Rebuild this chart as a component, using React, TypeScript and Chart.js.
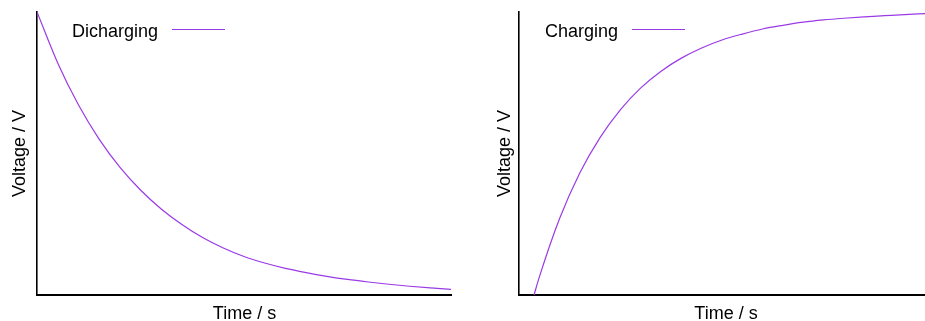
import React, { useEffect, useRef } from "react";
import { Chart, registerables } from "chart.js";

Chart.register(...registerables);

// Discharging: voltage falling from full towards zero
const dischargeTime = [0, 0.5, 1, 1.5, 2, 2.5, 3, 3.5, 4, 4.5, 5, 5.5, 6, 6.5, 7, 7.5, 8, 8.5, 9, 9.5, 10];
const dischargeVolts = [1.0, 0.82, 0.672, 0.551, 0.452, 0.371, 0.304, 0.249, 0.203, 0.166, 0.136, 0.113, 0.094, 0.079, 0.066, 0.055, 0.046, 0.038, 0.031, 0.025, 0.02];

// Charging: voltage rising from zero towards full
const chargeTime = [0.37, 0.5, 1, 1.5, 2, 2.5, 3, 3.5, 4, 4.5, 5, 5.5, 6, 6.5, 7, 7.5, 8, 8.5, 9, 9.5, 10];
const chargeVolts = [0, 0.063, 0.27, 0.432, 0.557, 0.655, 0.732, 0.791, 0.837, 0.873, 0.901, 0.922, 0.94, 0.953, 0.964, 0.972, 0.978, 0.983, 0.987, 0.991, 0.994];

const xTitle = "Time / s";
const yTitle = "Voltage / V";

const LINE_COLOR = "#9a3ae6";
const FONT = '18px "Liberation Sans", Arial, Helvetica, sans-serif';

type Decor = {
  key: string;
  legendX: number;
  sampleX1: number;
  sampleX2: number;
  xTitleCenter: number;
  yTitleBaseline: number;
};

// Draws the gnuplot-style key (text followed by a line sample) and the axis titles
const decorPlugin = {
  id: "decor",
  afterDraw(chart: any, _args: any, opts: Decor) {
    const ctx = chart.ctx as CanvasRenderingContext2D;
    const area = chart.chartArea;
    ctx.save();
    ctx.font = FONT;
    ctx.fillStyle = "#000";
    ctx.textBaseline = "alphabetic";

    // key
    ctx.textAlign = "left";
    ctx.fillText(opts.key, opts.legendX, 36.5);
    ctx.strokeStyle = LINE_COLOR;
    ctx.lineWidth = 1.2;
    ctx.beginPath();
    ctx.moveTo(opts.sampleX1, 29.5);
    ctx.lineTo(opts.sampleX2, 29.5);
    ctx.stroke();

    // x-axis title
    ctx.textAlign = "center";
    ctx.fillText(xTitle, opts.xTitleCenter, 319);

    // y-axis title, rotated
    ctx.translate(opts.yTitleBaseline, (area.top + area.bottom) / 2);
    ctx.rotate(-Math.PI / 2);
    ctx.fillText(yTitle, 0, 0);
    ctx.restore();
  },
};

function RCChart(props: {
  width: number;
  left: number;
  times: number[];
  volts: number[];
  padding: { left: number; right: number; top: number; bottom: number };
  decor: Decor;
}) {
  const ref = useRef<HTMLCanvasElement | null>(null);

  useEffect(() => {
    if (!ref.current) return;
    const points = props.times.map((t, i) => ({ x: t, y: props.volts[i] }));
    const chart = new Chart(ref.current, {
      type: "line",
      data: {
        datasets: [
          {
            data: points,
            borderColor: LINE_COLOR,
            borderWidth: 1.2,
            pointRadius: 0,
            cubicInterpolationMode: "monotone",
            fill: false,
          },
        ],
      },
      options: {
        animation: false,
        responsive: false,
        maintainAspectRatio: false,
        devicePixelRatio: 1,
        layout: { padding: props.padding },
        plugins: {
          legend: { display: false },
          tooltip: { enabled: false },
          decor: props.decor,
        } as any,
        scales: {
          x: {
            type: "linear",
            min: 0,
            max: 10,
            grid: { display: false, drawTicks: false },
            ticks: { display: false },
            border: { display: true, color: "#000", width: 2 },
          },
          y: {
            type: "linear",
            min: 0,
            max: 1,
            grid: { display: false, drawTicks: false },
            ticks: { display: false },
            border: { display: true, color: "#000", width: 1.6 },
          },
        },
      },
      plugins: [decorPlugin],
    });
    return () => chart.destroy();
  }, []);

  return (
    <canvas
      ref={ref}
      width={props.width}
      height={321}
      style={{ position: "absolute", left: props.left, top: 0, width: props.width, height: 321 }}
    />
  );
}

export default function App() {
  return (
    <div style={{ position: "absolute", left: 0, top: 0, width: 925, height: 321, background: "#fff", overflow: "hidden" }}>
      <RCChart
        width={470}
        left={0}
        times={dischargeTime}
        volts={dischargeVolts}
        padding={{ left: 37, right: 19, top: 12, bottom: 26 }}
        decor={{ key: "Dicharging", legendX: 72, sampleX1: 172, sampleX2: 225, xTitleCenter: 244.5, yTitleBaseline: 25 }}
      />
      <RCChart
        width={455}
        left={470}
        times={chargeTime}
        volts={chargeVolts}
        padding={{ left: 49, right: 0, top: 12, bottom: 26 }}
        decor={{ key: "Charging", legendX: 75, sampleX1: 162, sampleX2: 215, xTitleCenter: 256, yTitleBaseline: 40 }}
      />
    </div>
  );
}
